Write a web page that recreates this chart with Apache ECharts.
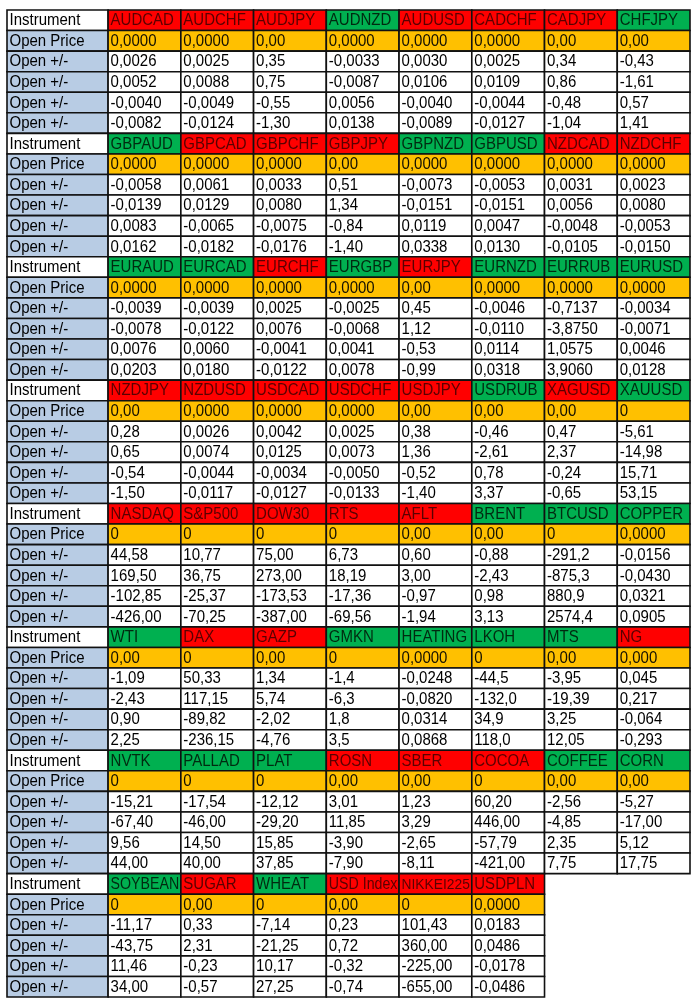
<!DOCTYPE html>
<html>
<head>
<meta charset="utf-8">
<script src="https://cdn.jsdelivr.net/npm/echarts@6/dist/echarts.min.js"></script>
<style>
  html, body { margin: 0; padding: 0; background: #fff; }
  #main { width: 700px; height: 1007px; }
</style>
</head>
<body>
<div id="main"></div>
<script>
// table contents, read row by row (8 instruments per block)
var rowLabels = ['Instrument', 'Open Price', 'Open +/-', 'Open +/-', 'Open +/-', 'Open +/-'];

var instruments = [
    'AUDCAD', 'AUDCHF', 'AUDJPY', 'AUDNZD', 'AUDUSD', 'CADCHF', 'CADJPY', 'CHFJPY',
    'GBPAUD', 'GBPCAD', 'GBPCHF', 'GBPJPY', 'GBPNZD', 'GBPUSD', 'NZDCAD', 'NZDCHF',
    'EURAUD', 'EURCAD', 'EURCHF', 'EURGBP', 'EURJPY', 'EURNZD', 'EURRUB', 'EURUSD',
    'NZDJPY', 'NZDUSD', 'USDCAD', 'USDCHF', 'USDJPY', 'USDRUB', 'XAGUSD', 'XAUUSD',
    'NASDAQ', 'S&P500', 'DOW30', 'RTS', 'AFLT', 'BRENT', 'BTCUSD', 'COPPER',
    'WTI', 'DAX', 'GAZP', 'GMKN', 'HEATING', 'LKOH', 'MTS', 'NG',
    'NVTK', 'PALLAD', 'PLAT', 'ROSN', 'SBER', 'COCOA', 'COFFEE', 'CORN',
    'SOYBEAN', 'SUGAR', 'WHEAT', 'USD Index', 'NIKKEI225', 'USDPLN'
];

// u = green header, d = red header
var trend = [
    'd', 'd', 'd', 'u', 'd', 'd', 'd', 'u',
    'u', 'd', 'd', 'd', 'u', 'u', 'd', 'd',
    'u', 'u', 'd', 'u', 'd', 'u', 'u', 'u',
    'd', 'd', 'd', 'd', 'd', 'u', 'd', 'u',
    'd', 'd', 'd', 'd', 'd', 'u', 'u', 'u',
    'u', 'd', 'd', 'u', 'u', 'u', 'u', 'd',
    'u', 'u', 'u', 'd', 'd', 'd', 'u', 'u',
    'u', 'd', 'u', 'd', 'd', 'd'
];

var openPrice = [
    '0,0000', '0,0000', '0,00', '0,0000', '0,0000', '0,0000', '0,00', '0,00',
    '0,0000', '0,0000', '0,0000', '0,00', '0,0000', '0,0000', '0,0000', '0,0000',
    '0,0000', '0,0000', '0,0000', '0,0000', '0,00', '0,0000', '0,0000', '0,0000',
    '0,00', '0,0000', '0,0000', '0,0000', '0,00', '0,00', '0,00', '0',
    '0', '0', '0', '0', '0,00', '0,00', '0', '0,0000',
    '0,00', '0', '0,00', '0', '0,0000', '0', '0,00', '0,000',
    '0', '0', '0', '0,00', '0,00', '0', '0,00', '0,00',
    '0', '0,00', '0', '0,00', '0', '0,0000'
];

var delta1 = [
    '0,0026', '0,0025', '0,35', '-0,0033', '0,0030', '0,0025', '0,34', '-0,43',
    '-0,0058', '0,0061', '0,0033', '0,51', '-0,0073', '-0,0053', '0,0031', '0,0023',
    '-0,0039', '-0,0039', '0,0025', '-0,0025', '0,45', '-0,0046', '-0,7137', '-0,0034',
    '0,28', '0,0026', '0,0042', '0,0025', '0,38', '-0,46', '0,47', '-5,61',
    '44,58', '10,77', '75,00', '6,73', '0,60', '-0,88', '-291,2', '-0,0156',
    '-1,09', '50,33', '1,34', '-1,4', '-0,0248', '-44,5', '-3,95', '0,045',
    '-15,21', '-17,54', '-12,12', '3,01', '1,23', '60,20', '-2,56', '-5,27',
    '-11,17', '0,33', '-7,14', '0,23', '101,43', '0,0183'
];

var delta2 = [
    '0,0052', '0,0088', '0,75', '-0,0087', '0,0106', '0,0109', '0,86', '-1,61',
    '-0,0139', '0,0129', '0,0080', '1,34', '-0,0151', '-0,0151', '0,0056', '0,0080',
    '-0,0078', '-0,0122', '0,0076', '-0,0068', '1,12', '-0,0110', '-3,8750', '-0,0071',
    '0,65', '0,0074', '0,0125', '0,0073', '1,36', '-2,61', '2,37', '-14,98',
    '169,50', '36,75', '273,00', '18,19', '3,00', '-2,43', '-875,3', '-0,0430',
    '-2,43', '117,15', '5,74', '-6,3', '-0,0820', '-132,0', '-19,39', '0,217',
    '-67,40', '-46,00', '-29,20', '11,85', '3,29', '446,00', '-4,85', '-17,00',
    '-43,75', '2,31', '-21,25', '0,72', '360,00', '0,0486'
];

var delta3 = [
    '-0,0040', '-0,0049', '-0,55', '0,0056', '-0,0040', '-0,0044', '-0,48', '0,57',
    '0,0083', '-0,0065', '-0,0075', '-0,84', '0,0119', '0,0047', '-0,0048', '-0,0053',
    '0,0076', '0,0060', '-0,0041', '0,0041', '-0,53', '0,0114', '1,0575', '0,0046',
    '-0,54', '-0,0044', '-0,0034', '-0,0050', '-0,52', '0,78', '-0,24', '15,71',
    '-102,85', '-25,37', '-173,53', '-17,36', '-0,97', '0,98', '880,9', '0,0321',
    '0,90', '-89,82', '-2,02', '1,8', '0,0314', '34,9', '3,25', '-0,064',
    '9,56', '14,50', '15,85', '-3,90', '-2,65', '-57,79', '2,35', '5,12',
    '11,46', '-0,23', '10,17', '-0,32', '-225,00', '-0,0178'
];

var delta4 = [
    '-0,0082', '-0,0124', '-1,30', '0,0138', '-0,0089', '-0,0127', '-1,04', '1,41',
    '0,0162', '-0,0182', '-0,0176', '-1,40', '0,0338', '0,0130', '-0,0105', '-0,0150',
    '0,0203', '0,0180', '-0,0122', '0,0078', '-0,99', '0,0318', '3,9060', '0,0128',
    '-1,50', '-0,0117', '-0,0127', '-0,0133', '-1,40', '3,37', '-0,65', '53,15',
    '-426,00', '-70,25', '-387,00', '-69,56', '-1,94', '3,13', '2574,4', '0,0905',
    '2,25', '-236,15', '-4,76', '3,5', '0,0868', '118,0', '12,05', '-0,293',
    '44,00', '40,00', '37,85', '-7,90', '-8,11', '-421,00', '7,75', '17,75',
    '34,00', '-0,57', '27,25', '-0,74', '-655,00', '-0,0486'
];

(function () {

    var perBlock = 8;
    var labelSpan = 1.39;   // ширина первой колонки в долях колонки данных
    var fontFamily = '"Liberation Sans", Arial, sans-serif';
    var baseSize = 15;
    var stretchY = 1.1;     // текст в оригинале чуть вытянут по вертикали

    var colors = {
        u: '#00B050', d: '#FF0000',
        uText: '#002A10', dText: '#5A0000',
        price: '#FFC000', label: '#B8CCE4'
    };

    var measureCtx = document.createElement('canvas').getContext('2d');
    function fitSize(text, maxW) {
        measureCtx.font = baseSize + 'px ' + fontFamily;
        var w = measureCtx.measureText(text).width;
        if (w <= maxW) return baseSize;
        return Math.max(9, Math.floor(baseSize * maxW / w * 10) / 10);
    }

    // собираем ячейки
    var cells = [];
    var nBlocks = Math.ceil(instruments.length / perBlock);
    for (var b = 0; b < nBlocks; b++) {
        var top = b * rowLabels.length;
        // колонка подписей
        rowLabels.forEach(function (lab, r) {
            cells.push({
                value: [-1, top + r],
                text: lab,
                fill: r === 0 ? '#ffffff' : colors.label,
                color: '#000'
            });
        });
        for (var c = 0; c < perBlock; c++) {
            var i = b * perBlock + c;
            if (i >= instruments.length) break;
            var t = trend[i];
            cells.push({value: [c, top], text: instruments[i], fill: colors[t], color: colors[t + 'Text']});
            cells.push({value: [c, top + 1], text: openPrice[i], fill: colors.price, color: '#141000'});
            [delta1, delta2, delta3, delta4].forEach(function (arr, k) {
                cells.push({value: [c, top + 2 + k], text: arr[i], fill: '#ffffff', color: '#000'});
            });
        }
    }

    var totalRows = nBlocks * rowLabels.length;

    function renderCell(params, api) {
        var cell = cells[params.dataIndex];
        var col = api.value(0), row = api.value(1);
        var x0 = col < 0 ? -labelSpan : col;
        var x1 = col < 0 ? 0 : col + 1;
        var p0 = api.coord([x0, row]);
        var p1 = api.coord([x1, row + 1]);
        var w = p1[0] - p0[0], h = p1[1] - p0[1];
        var size = fitSize(cell.text, w - 4);
        return {
            type: 'group',
            children: [{
                type: 'rect',
                shape: {x: p0[0], y: p0[1], width: w, height: h},
                style: {fill: cell.fill, stroke: '#111', lineWidth: 1.6}
            }, {
                type: 'text',
                x: p0[0] + 2.5,
                y: p0[1] + h / 2 + 0.5,
                scaleY: stretchY,
                style: {
                    text: cell.text,
                    x: 0,
                    y: 0,
                    fill: cell.color,
                    font: size + 'px ' + fontFamily,
                    align: 'left',
                    verticalAlign: 'middle'
                }
            }]
        };
    }

    var chart = echarts.init(document.getElementById('main'));
    chart.setOption({
        backgroundColor: '#ffffff',
        animation: false,
        grid: {left: 7, right: 10, top: 10, bottom: 10},
        xAxis: {type: 'value', min: -labelSpan, max: perBlock, show: false},
        yAxis: {type: 'value', min: 0, max: totalRows, inverse: true, show: false},
        series: [{
            type: 'custom',
            renderItem: renderCell,
            encode: {x: 0, y: 1},
            data: cells.map(function (c) { return c.value; }),
            silent: true
        }]
    });

})();
</script>
</body>
</html>
